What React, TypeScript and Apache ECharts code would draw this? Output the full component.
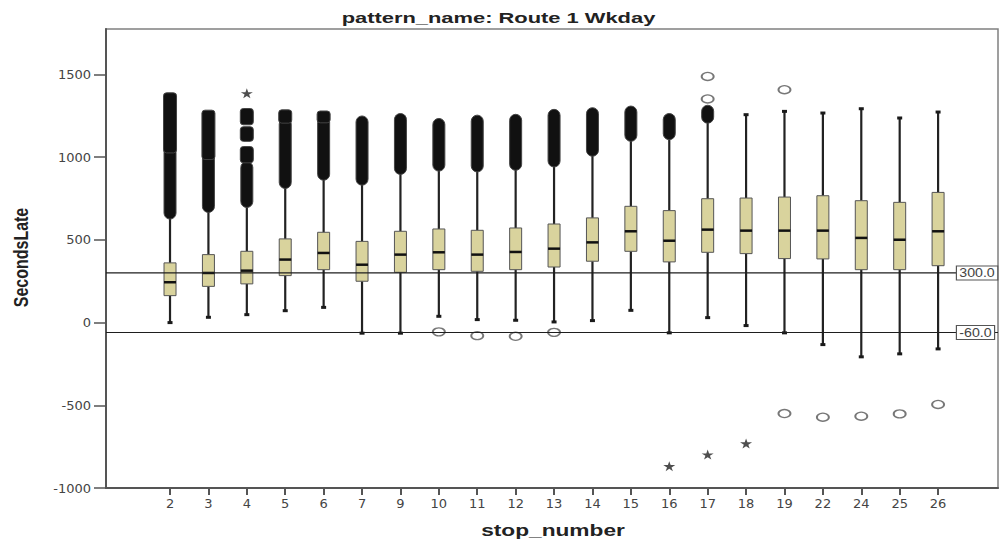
import React, { useEffect, useRef } from 'react';
import * as echarts from 'echarts';

// ---------- data ----------
const titleText = 'pattern_name: Route 1 Wkday';
const xName = 'stop_number';
const yName = 'SecondsLate';

const stops = ['2', '3', '4', '5', '6', '7', '9', '10', '11', '12', '13', '14', '15', '16', '17', '18', '19', '22', '24', '25', '26'];
const whiskerLow = [0, 32, 48, 72, 92, -64, -64, 38, 18, 14, 4, 12, 74, -62, 30, -18, -62, -133, -207, -189, -159];
const q1 = [163, 219, 234, 284, 320, 250, 304, 320, 310, 320, 336, 371, 431, 367, 425, 417, 387, 385, 320, 320, 344];
const median = [244, 300, 314, 381, 421, 350, 411, 425, 411, 427, 447, 485, 552, 495, 562, 556, 556, 556, 512, 501, 552];
const q3 = [361, 411, 431, 506, 546, 491, 552, 566, 558, 572, 596, 633, 703, 677, 749, 753, 759, 767, 737, 727, 787];
const whiskerHigh = [640, 680, 712, 825, 875, 845, 910, 930, 925, 935, 955, 1020, 1110, 1120, 1216, 1257, 1277, 1267, 1293, 1237, 1273];

// dense clusters of outliers (overlapping markers)
const blobStop = ['2', '2', '3', '3', '4', '4', '4', '4', '5', '5', '6', '6', '7', '9', '10', '11', '12', '13', '14', '15', '16', '17'];
const blobLow = [650, 1050, 690, 1010, 720, 990, 1120, 1220, 835, 1230, 885, 1232, 855, 920, 940, 935, 945, 965, 1030, 1120, 1130, 1230];
const blobHigh = [1040, 1365, 1000, 1260, 950, 1040, 1160, 1270, 1212, 1262, 1222, 1255, 1225, 1240, 1210, 1230, 1235, 1265, 1275, 1285, 1240, 1290];
const blobKind = ['circle', 'star', 'circle', 'star', 'circle', 'star', 'star', 'star', 'circle', 'star', 'circle', 'star', 'circle', 'circle', 'circle', 'circle', 'circle', 'circle', 'circle', 'circle', 'circle', 'circle'];

// single outliers
const circleStop = ['10', '11', '12', '13', '17', '17', '19', '19', '22', '24', '25', '26'];
const circleValue = [-56, -79, -83, -59, 1352, 1488, 1408, -550, -572, -566, -552, -495];
const starStop = ['4', '16', '17', '18'];
const starValue = [1386, -868, -798, -731];

// reference lines
const refValues = [300, -60];

const yTicks = [-1000, -500, 0, 500, 1000, 1500];
const yMin = -1000;
const yMax = 1775;

// ---------- helpers ----------
const idx = stops.map((_, i) => i);
const STAR = 'path://M50,0 L61,35 L98,35 L68,57 L79,91 L50,70 L21,91 L32,57 L2,35 L39,35 Z';

function buildOption(): any {
  const boxData = stops.map((_, i) => [i, whiskerLow[i], q1[i], median[i], q3[i], whiskerHigh[i]]);
  const blobData = blobStop.map((s, j) => [stops.indexOf(s), blobLow[j], blobHigh[j], blobKind[j] === 'star' ? 1 : 0]);
  const circleData = circleStop.map((s, j) => [stops.indexOf(s), circleValue[j]]);
  const starData = starStop.map((s, j) => [stops.indexOf(s), starValue[j]]);
  const refData = refValues.map((v) => [0, v]);

  return {
    animation: false,
    backgroundColor: '#ffffff',
    grid: {
      left: 106,
      top: 29,
      right: 1,
      bottom: 51,
      show: true,
      borderColor: '#808080',
      borderWidth: 1.5,
      containLabel: false,
      outerBoundsMode: 'none',
    },
    xAxis: {
      type: 'value',
      min: -1.667,
      max: 21.56,
      axisLine: { show: true, onZero: false, lineStyle: { color: '#555', width: 2 } },
      axisTick: { show: true, length: 7, customValues: idx, lineStyle: { color: '#555', width: 2 } },
      axisLabel: {
        customValues: idx,
        formatter: (v: number) => stops[Math.round(v)] ?? '',
        color: '#444',
        fontFamily: 'DejaVu Sans',
        fontSize: 13,
        margin: 9,
      },
      splitLine: { show: false },
    },
    yAxis: {
      type: 'value',
      min: yMin,
      max: yMax,
      axisLine: { show: true, onZero: false, lineStyle: { color: '#555', width: 2 } },
      axisTick: { show: true, length: 12, customValues: yTicks, lineStyle: { color: '#555', width: 1.5 } },
      axisLabel: {
        customValues: yTicks,
        formatter: (v: number) => String(v),
        color: '#444',
        fontFamily: 'DejaVu Sans',
        fontSize: 13,
        margin: 15,
      },
      splitLine: { show: false },
    },
    graphic: [
      {
        type: 'text',
        x: 498.5,
        y: 17.5,
        scaleX: 1.46,
        style: {
          text: titleText,
          font: 'bold 15px "Liberation Sans", Arial, sans-serif',
          fill: '#222',
          textAlign: 'center',
          textVerticalAlign: 'middle',
        },
      },
      {
        type: 'text',
        x: 553,
        y: 530,
        scaleX: 1.42,
        style: {
          text: xName,
          font: 'bold 16px "Liberation Sans", Arial, sans-serif',
          fill: '#222',
          textAlign: 'center',
          textVerticalAlign: 'middle',
        },
      },
      {
        type: 'text',
        x: 21,
        y: 257.5,
        rotation: Math.PI / 2,
        scaleY: 1.3,
        style: {
          text: yName,
          font: 'bold 16px "Liberation Sans", Arial, sans-serif',
          fill: '#222',
          textAlign: 'center',
          textVerticalAlign: 'middle',
        },
      },
    ],
    series: [
      {
        type: 'custom',
        name: 'box',
        data: boxData,
        encode: { x: 0, y: [1, 2, 3, 4, 5] },
        renderItem: (params: any, api: any) => {
          const i = api.value(0);
          const lo = api.coord([i, api.value(1)]);
          const b1 = api.coord([i, api.value(2)]);
          const md = api.coord([i, api.value(3)]);
          const b3 = api.coord([i, api.value(4)]);
          const hi = api.coord([i, api.value(5)]);
          const x = lo[0];
          const hw = 6;
          const wStyle = { stroke: '#222', lineWidth: 2.2 };
          const cStyle = { stroke: '#1a1a1a', lineWidth: 3 };
          return {
            type: 'group',
            children: [
              { type: 'line', shape: { x1: x, y1: lo[1], x2: x, y2: b1[1] }, style: wStyle },
              { type: 'line', shape: { x1: x, y1: b3[1], x2: x, y2: hi[1] }, style: wStyle },
              { type: 'line', shape: { x1: x - 2.5, y1: lo[1], x2: x + 2.5, y2: lo[1] }, style: cStyle },
              { type: 'line', shape: { x1: x - 2.5, y1: hi[1], x2: x + 2.5, y2: hi[1] }, style: cStyle },
              {
                type: 'rect',
                shape: { x: x - hw, y: b3[1], width: hw * 2, height: b1[1] - b3[1] },
                style: { fill: '#d9d39d', stroke: '#555', lineWidth: 1 },
              },
              { type: 'line', shape: { x1: x - hw, y1: md[1], x2: x + hw, y2: md[1] }, style: { stroke: '#111', lineWidth: 2.5 } },
            ],
          };
        },
        z: 2,
      },
      {
        type: 'custom',
        name: 'outlierCluster',
        data: blobData,
        encode: { x: 0, y: [1, 2] },
        renderItem: (params: any, api: any) => {
          const i = api.value(0);
          const a = api.coord([i, api.value(1)]);
          const b = api.coord([i, api.value(2)]);
          const star = api.value(3) === 1;
          const w = star ? 13 : 12;
          return {
            type: 'rect',
            shape: { x: a[0] - w / 2, y: b[1] - 4, width: w, height: a[1] - b[1] + 8, r: star ? 3 : 6 },
            style: { fill: '#111', stroke: '#444', lineWidth: 1 },
          };
        },
        z: 3,
      },
      {
        type: 'scatter',
        name: 'outliers',
        data: circleData,
        symbol: 'circle',
        symbolSize: [12, 8],
        itemStyle: { color: '#ffffff', borderColor: '#555', borderWidth: 1.6 },
        z: 4,
      },
      {
        type: 'scatter',
        name: 'extremes',
        data: starData,
        symbol: STAR,
        symbolSize: [12, 10],
        itemStyle: { color: '#222' },
        z: 4,
      },
      {
        type: 'custom',
        name: 'reference',
        data: refData,
        encode: { x: 0, y: 1 },
        renderItem: (params: any, api: any) => {
          const cs = params.coordSys;
          const v = api.value(1);
          const y = api.coord([0, v])[1];
          return {
            type: 'group',
            children: [
              { type: 'line', shape: { x1: cs.x, y1: y, x2: cs.x + cs.width, y2: y }, style: { stroke: '#1e1e1e', lineWidth: 1.2 } },
              {
                type: 'text',
                x: cs.x + cs.width - 41,
                y,
                scaleX: 1.18,
                style: {
                  text: Number(v).toFixed(1),
                  font: '12px "Liberation Sans", Arial, sans-serif',
                  fill: '#444',
                  textAlign: 'left',
                  textVerticalAlign: 'middle',
                  backgroundColor: '#ffffff',
                  borderColor: '#555',
                  borderWidth: 1,
                  padding: [1, 2, 0, 2],
                },
              },
            ],
          };
        },
        z: 5,
      },
    ],
  };
}

export default function App() {
  const ref = useRef<HTMLDivElement>(null);
  useEffect(() => {
    if (!ref.current) return;
    const chart = echarts.init(ref.current, null, { renderer: 'svg' });
    chart.setOption(buildOption());
    return () => chart.dispose();
  }, []);
  return (
    <div
      ref={ref}
      style={{ position: 'fixed', left: 0, top: 0, width: 999, height: 539, background: '#fff' }}
    />
  );
}
